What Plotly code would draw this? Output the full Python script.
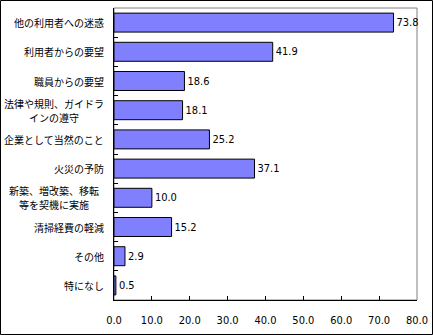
import plotly.graph_objects as go

categories = ["他の利用者への迷惑", "利用者からの要望", "職員からの要望",
              "法律や規則、ガイドラ<br>インの遵守", "企業として当然のこと", "火災の予防",
              "新築、増改築、移転<br>等を契機に実施", "清掃経費の軽減", "その他", "特になし"]
values = [73.8, 41.9, 18.6, 18.1, 25.2, 37.1, 10.0, 15.2, 2.9, 0.5]
x_ticks = [0, 10, 20, 30, 40, 50, 60, 70, 80]

W, H = 433, 335
L, R, T, B = 114, 16, 8, 35
pw, ph = W - L - R, H - T - B

num_font = dict(family="DejaVu Sans Condensed, Liberation Sans, Arial", size=11, color="black")
lab_font = dict(family="Noto Sans CJK JP", size=10, color="black")

fig = go.Figure(go.Bar(
    x=values, y=categories, orientation="h",
    marker=dict(color="#8080FF", line=dict(color="black", width=1)),
    text=[f"{v:.1f}" for v in values], textposition="outside",
    textfont=num_font, cliponaxis=False,
))

annotations = []
line_gap = 14
for c in categories:
    lines = c.split("<br>")
    n = len(lines)
    for i, ln in enumerate(lines):
        a = dict(x=0, y=c, xref="paper", yref="y", text=ln, showarrow=False,
                 xanchor="right", xshift=-8, yshift=((n - 1) / 2 - i) * line_gap,
                 font=lab_font)
        if n > 1:
            a.update(width=100, align="center")
        else:
            a.update(align="right")
        annotations.append(a)

shapes = [
    dict(type="rect", xref="paper", yref="paper", x0=0, x1=1, y0=0, y1=1,
         line=dict(color="#808080", width=1), layer="below"),
    dict(type="rect", xref="paper", yref="paper",
         x0=(0.5 - L) / pw, x1=(W - 0.5 - L) / pw,
         y0=(T + ph - (H - 0.5)) / ph, y1=(T + ph - 0.5) / ph,
         line=dict(color="black", width=1)),
]

fig.update_layout(
    width=W, height=H, margin=dict(l=L, r=R, t=T, b=B, autoexpand=False),
    paper_bgcolor="white", plot_bgcolor="white",
    showlegend=False, bargap=0.35,
    annotations=annotations, shapes=shapes,
    xaxis=dict(range=[0, 80], tickvals=x_ticks, ticktext=[f"{v:.1f}" for v in x_ticks],
               showgrid=False, zeroline=False, showline=True, linecolor="black", linewidth=1,
               ticks="inside", ticklen=4, tickcolor="black", tickfont=num_font,
               ticklabelstandoff=10, automargin=False),
    yaxis=dict(autorange="reversed", showgrid=False, zeroline=False, showline=True,
               linecolor="black", linewidth=1, ticks="inside", ticklen=4, tickcolor="black",
               tickson="boundaries", showticklabels=False, automargin=False),
)

fig.write_html("out.html")
